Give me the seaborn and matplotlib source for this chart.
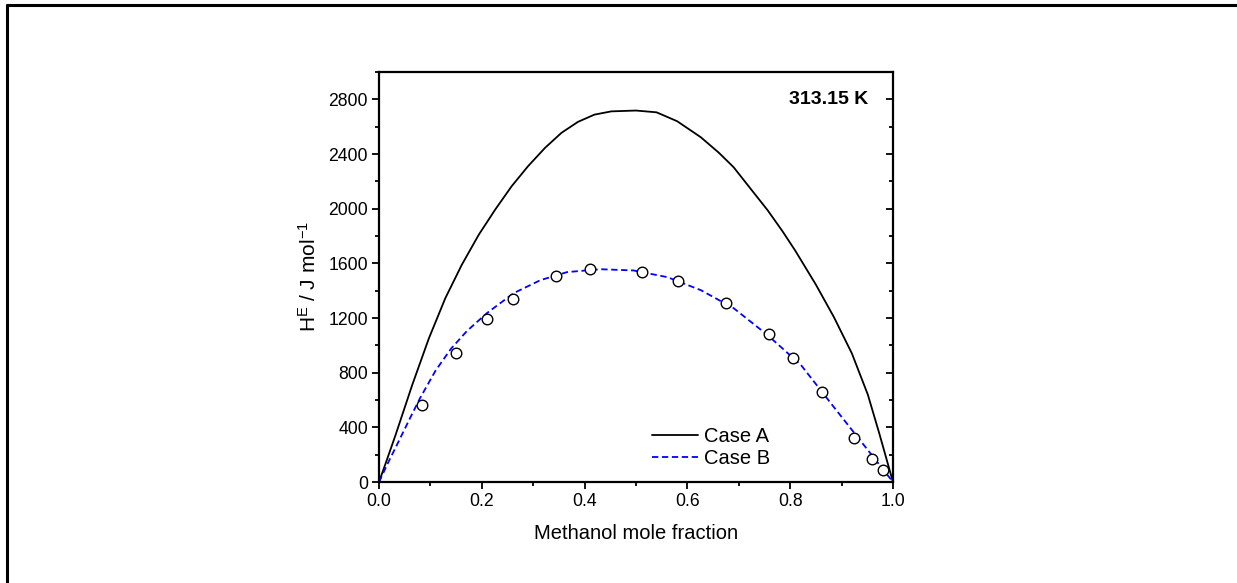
import matplotlib
matplotlib.use("Agg")
import matplotlib.pyplot as plt
import seaborn as sns
import pandas as pd
from matplotlib.lines import Line2D
from matplotlib.ticker import MultipleLocator

# Case A (solid) curve
case_a_x = [0.0, 0.016, 0.032, 0.0645, 0.097, 0.129, 0.161, 0.194, 0.226, 0.258, 0.290, 0.323, 0.355, 0.387,
            0.419, 0.452, 0.50, 0.54, 0.58, 0.626, 0.661, 0.69, 0.72, 0.756, 0.785, 0.81, 0.85, 0.885,
            0.92, 0.951, 0.973, 1.0]
case_a_y = [0, 170, 342, 709, 1051, 1345, 1589, 1809, 1993, 2164, 2311, 2445, 2555, 2635,
            2688, 2712, 2718, 2705, 2640, 2523, 2410, 2303, 2160, 1989, 1835, 1692, 1444, 1207,
            941, 640, 360, 0]

# Case B (dashed) curve
case_b_x = [0.0, 0.02, 0.034, 0.06, 0.08, 0.11, 0.14, 0.171, 0.21, 0.262, 0.314, 0.366, 0.431, 0.495,
            0.561, 0.626, 0.69, 0.756, 0.821, 0.885, 0.951, 1.0]
case_b_y = [0, 160, 265, 465, 615, 815, 975, 1105, 1236, 1382, 1477, 1536, 1557, 1548,
            1499, 1404, 1272, 1075, 856, 548, 234, 0]

# Experimental points
exp_x = [0.083, 0.150, 0.210, 0.260, 0.344, 0.411, 0.511, 0.582, 0.676, 0.758, 0.806, 0.862, 0.925, 0.960, 0.980]
exp_y = [561, 946, 1190, 1340, 1506, 1555, 1536, 1472, 1307, 1085, 904, 660, 324, 171, 88]

x_ticks = [0.0, 0.2, 0.4, 0.6, 0.8, 1.0]
y_ticks = [0, 400, 800, 1200, 1600, 2000, 2400, 2800]

sns.set_style("ticks")
plt.rcParams['font.family'] = ['Liberation Sans', 'DejaVu Sans']
plt.rcParams['mathtext.fontset'] = 'custom'
plt.rcParams['mathtext.rm'] = 'Liberation Sans'
plt.rcParams['mathtext.it'] = 'Liberation Sans'
plt.rcParams['text.color'] = 'black'
plt.rcParams['axes.labelcolor'] = 'black'
plt.rcParams['xtick.color'] = 'black'
plt.rcParams['ytick.color'] = 'black'
plt.rcParams['axes.edgecolor'] = 'black'

fig = plt.figure(figsize=(12.37, 5.83), dpi=100)
ax = fig.add_axes([0.3064, 0.1732, 0.7219 - 0.3064, 0.8765 - 0.1732])

dfa = pd.DataFrame({"x": case_a_x, "y": case_a_y})
dfb = pd.DataFrame({"x": case_b_x, "y": case_b_y})
dfe = pd.DataFrame({"x": exp_x, "y": exp_y})

sns.lineplot(data=dfa, x="x", y="y", ax=ax, color="black", lw=1.3, sort=True, label="Case A")
sns.lineplot(data=dfb, x="x", y="y", ax=ax, color="#0000ff", lw=1.3, sort=True, label="Case B")
ax.lines[0].set_solid_joinstyle("round")
ax.lines[1].set_dashes([3.5, 2.0])
sns.scatterplot(data=dfe, x="x", y="y", ax=ax, marker="o", s=58, facecolor="white",
                edgecolor="black", linewidth=1.0, zorder=5, legend=False)

ax.set_xlim(0, 1.0)
ax.set_ylim(0, 3000)
ax.set_xticks(x_ticks)
ax.set_xticklabels([f"{v:.1f}" for v in x_ticks])
ax.set_yticks(y_ticks)
ax.set_yticklabels([str(v) for v in y_ticks])
ax.xaxis.set_minor_locator(MultipleLocator(0.1))
ax.yaxis.set_minor_locator(MultipleLocator(200))
ax.tick_params(axis="both", which="major", direction="out", length=5, width=1.3, labelsize=12.7, pad=3)
ax.tick_params(axis="both", which="minor", direction="out", length=3, width=1.3)
ax.tick_params(axis="y", which="both", right=True, labelright=False)
for t in ax.yaxis.get_major_ticks() + ax.yaxis.get_minor_ticks():
    t.tick2line.set_marker(0)  # inward-pointing on right spine
for s in ax.spines.values():
    s.set_linewidth(1.6)
    s.set_visible(True)

ax.set_xlabel("Methanol mole fraction", fontsize=14.5, labelpad=10)
ax.set_ylabel(r"H$^{\mathrm{E}}$ / J mol$^{\mathrm{-1}}$", fontsize=15, labelpad=6)

ax.text(0.874, 0.934, "313.15 K", transform=ax.transAxes, ha="center", va="center",
        fontsize=14, fontweight="bold")

leg = ax.legend(loc="lower left", bbox_to_anchor=(0.516, 0.015), frameon=False, fontsize=14.5,
                handlelength=2.25, handletextpad=0.3, labelspacing=0.12, borderaxespad=0)

# outer frame (top and left edges)
fig.add_artist(Line2D([0.0055, 1.0], [0.9915, 0.9915], transform=fig.transFigure, color="black", lw=2.2))
fig.add_artist(Line2D([0.0055, 0.0055], [0.0, 0.9915], transform=fig.transFigure, color="black", lw=2.2))

fig.savefig("out.png", dpi=100)
